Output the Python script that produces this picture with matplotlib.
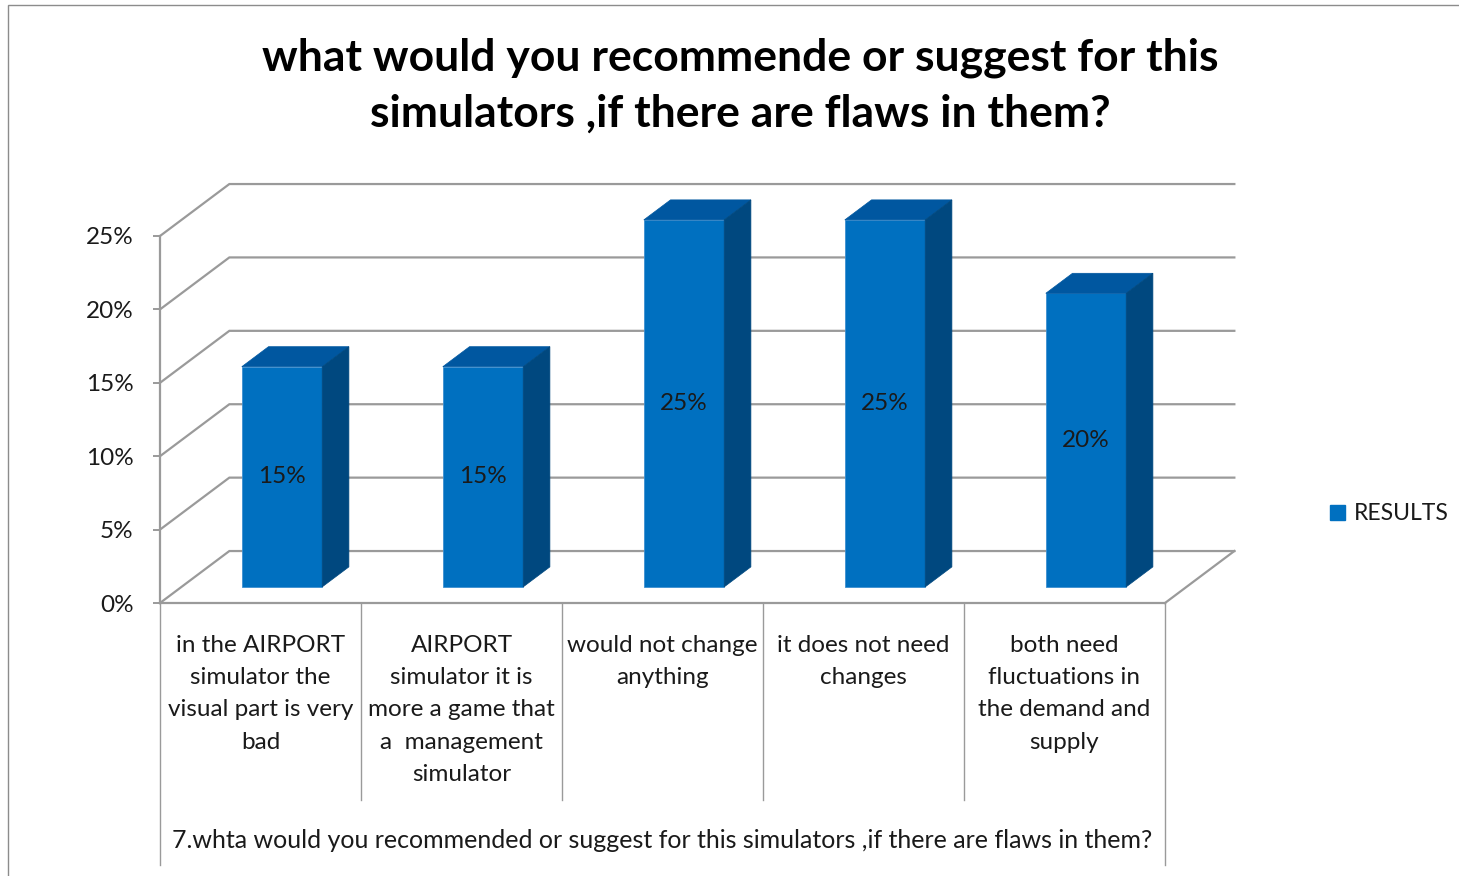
import matplotlib
matplotlib.use('Agg')
import matplotlib.pyplot as plt
from matplotlib.patches import Polygon, Patch, Rectangle
from matplotlib.transforms import blended_transform_factory
from matplotlib.ticker import PercentFormatter

# ---------------- data ----------------
categories = [
    "in the AIRPORT\nsimulator the\nvisual part is very\nbad",
    "AIRPORT\nsimulator it is\nmore a game that\na  management\nsimulator",
    "would not change\nanything",
    "it does not need\nchanges",
    "both need\nfluctuations in\nthe demand and\nsupply",
]
values = [0.15, 0.15, 0.25, 0.25, 0.20]
yticks = [0.0, 0.05, 0.10, 0.15, 0.20, 0.25]
title = "what would you recommende or suggest for this\nsimulators ,if there are flaws in them?"
xlabel = "7.whta would you recommended or suggest for this simulators ,if there are flaws in them?"
series_name = "RESULTS"

# ---------------- style ----------------
plt.rcParams['font.family'] = ['Lato', 'DejaVu Sans']
FRONT = '#0070C0'
TOP = '#0057A0'
SIDE = '#00487F'
GRID = '#9a9a9a'
TXT = '#1a1a1a'
FS = 17.5

W, H = 1459, 876
fig = plt.figure(figsize=(W / 100, H / 100), dpi=100)


def fx(px):
    return px / W


def fy(py):
    return 1 - py / H


n = len(values)
ax = fig.add_axes([fx(160), fy(603), fx(1165) - fx(160), fy(236) - fy(603)])
ax.set_xlim(-0.5, n - 0.5)
ax.set_ylim(0, 0.25)
ax.patch.set_visible(False)

# depth of the 3D box in data units
DX = 0.345
DY = 0.0354
F0 = 0.31    # depth position of bar front face
FD = 0.385   # bar depth
BW = 0.40    # bar width

# back wall / side wall gridlines
for t in yticks:
    ax.plot([-0.5, -0.5 + DX, n - 0.5 + DX], [t, t + DY, t + DY],
            color=GRID, lw=1.6, clip_on=False, zorder=1, solid_joinstyle='miter')
# floor right edge
ax.plot([n - 0.5, n - 0.5 + DX], [0, DY], color=GRID, lw=1.6, clip_on=False, zorder=1)

# bars
xs = list(range(n))
b = F0 * DY
bars = ax.bar([x + F0 * DX for x in xs], values, width=BW, bottom=b, color=FRONT,
              edgecolor='#3d8fd0', linewidth=0.6, zorder=3)
for r in bars:
    r.set_clip_on(False)
for x, v in zip(xs, values):
    x0 = x - BW / 2 + F0 * DX
    top = [(x0, v + b), (x0 + BW, v + b),
           (x0 + BW + FD * DX, v + b + FD * DY), (x0 + FD * DX, v + b + FD * DY)]
    side = [(x0 + BW, b), (x0 + BW, v + b),
            (x0 + BW + FD * DX, v + b + FD * DY), (x0 + BW + FD * DX, b + FD * DY)]
    ax.add_patch(Polygon(top, closed=True, facecolor=TOP, edgecolor=TOP, lw=0.5, zorder=3, clip_on=False))
    ax.add_patch(Polygon(side, closed=True, facecolor=SIDE, edgecolor=SIDE, lw=0.5, zorder=3, clip_on=False))
    ax.text(x + F0 * DX, b + v / 2, f"{v * 100:.0f}%", ha='center', va='center',
            fontsize=FS, color=TXT, zorder=5)

# axes styling
for s in ['top', 'right']:
    ax.spines[s].set_visible(False)
for s in ['left', 'bottom']:
    ax.spines[s].set_color(GRID)
    ax.spines[s].set_linewidth(1.6)
ax.set_xticks([])
ax.set_yticks(yticks)
ax.yaxis.set_major_formatter(PercentFormatter(1.0, decimals=0))
ax.tick_params(axis='y', direction='out', length=5, width=1.4, color=GRID,
               pad=14, labelsize=FS, labelcolor=TXT)

# category table
trans = blended_transform_factory(ax.transData, fig.transFigure)
for k in range(n + 1):
    xb = k - 0.5
    yb = 865 if k in (0, n) else 800
    ax.plot([xb, xb], [fy(603), fy(yb)], color=GRID, lw=1.0, transform=trans, clip_on=False)
for x, c in zip(xs, categories):
    ax.text(x, fy(635), c, transform=trans, ha='center', va='top', fontsize=FS,
            color=TXT, linespacing=1.66)

fig.text(fx(662), fy(841), xlabel, ha='center', va='center', fontsize=18, color=TXT)

# title
fig.text(fx(740), fy(86), title, ha='center', va='center', fontsize=32,
         fontweight='bold', color='black', linespacing=1.47)

# legend
fig.legend(handles=[Patch(color=FRONT, label=series_name)], loc='center left',
           bbox_to_anchor=(fx(1309), fy(514)), frameon=False, handlelength=0.65,
           handleheight=0.65, handletextpad=0.4, fontsize=16.5, labelcolor=TXT)

# chart border
fig.add_artist(Rectangle((fx(8), -0.1), 1.2, fy(5) + 0.1, transform=fig.transFigure,
                         fill=False, edgecolor='#8c8c8c', lw=1.0))

fig.savefig('out.png', dpi=100)
